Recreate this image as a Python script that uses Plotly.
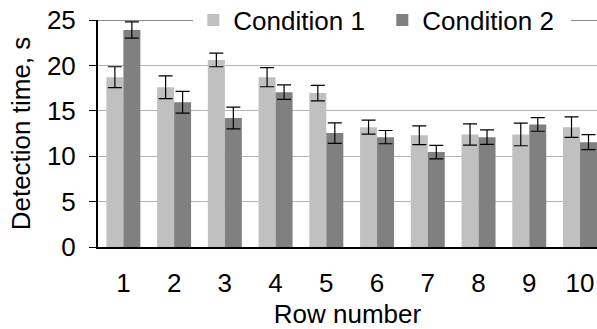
import plotly.graph_objects as go

rows = [1, 2, 3, 4, 5, 6, 7, 8, 9, 10]
cond1 = [18.7, 17.6, 20.6, 18.7, 16.95, 13.2, 12.3, 12.4, 12.4, 13.2]
cond1_err = [1.15, 1.25, 0.75, 1.05, 0.85, 0.77, 1.03, 1.17, 1.25, 1.12]
cond2 = [23.9, 15.95, 14.2, 17.05, 12.55, 12.1, 10.45, 12.1, 13.5, 11.55]
cond2_err = [0.9, 1.2, 1.2, 0.8, 1.13, 0.73, 0.75, 0.8, 0.75, 0.82]
y_ticks = [0, 5, 10, 15, 20, 25]

FONT = "Liberation Sans, Arial, sans-serif"

fig = go.Figure()
fig.add_trace(go.Bar(
    x=rows, y=cond1, name="Condition 1",
    marker=dict(color="#C0C0C0", line=dict(width=0)),
    error_y=dict(type="data", array=cond1_err, color="#000000", thickness=1.2, width=7),
))
fig.add_trace(go.Bar(
    x=rows, y=cond2, name="Condition 2",
    marker=dict(color="#808080", line=dict(width=0)),
    error_y=dict(type="data", array=cond2_err, color="#000000", thickness=1.2, width=7),
))

fig.add_shape(type="line", xref="paper", yref="y", x0=0, x1=1, y0=25, y1=25,
              line=dict(color="#8C8C8C", width=2), layer="below")

fig.update_layout(
    width=597, height=329,
    margin=dict(l=98, r=0, t=20, b=82, autoexpand=False),
    paper_bgcolor="white", plot_bgcolor="white",
    barmode="group", bargap=0.33, bargroupgap=0,
    font=dict(family=FONT, color="#000000"),
    showlegend=True,
    legend=dict(orientation="h", x=0.191, xanchor="left", y=1.0, yanchor="middle",
                bgcolor="white", borderwidth=0, font=dict(size=26),
                entrywidth=144, entrywidthmode="pixels", itemclick=False),
    xaxis=dict(
        range=[0.5, 10.335], tickmode="array", tickvals=rows, ticktext=[str(r) for r in rows],
        showgrid=False, zeroline=False, showline=True, linecolor="#000000", linewidth=2,
        ticks="", tickfont=dict(size=26), ticklabelstandoff=12,
        title=dict(text="Row number", font=dict(size=26), standoff=8),
    ),
    yaxis=dict(
        range=[0, 25], tickmode="array", tickvals=y_ticks,
        showgrid=True, gridcolor="#B4B4B4", gridwidth=1, zeroline=False,
        showline=True, linecolor="#000000", linewidth=2,
        ticks="outside", ticklen=7, tickcolor="#000000", tickwidth=1,
        tickfont=dict(size=26), ticklabelstandoff=8,
        title=dict(text="Detection time, s", font=dict(size=26), standoff=9),
    ),
)

fig.write_html("out.html", config={"displayModeBar": False},
               post_script="document.body.style.margin='0';")
